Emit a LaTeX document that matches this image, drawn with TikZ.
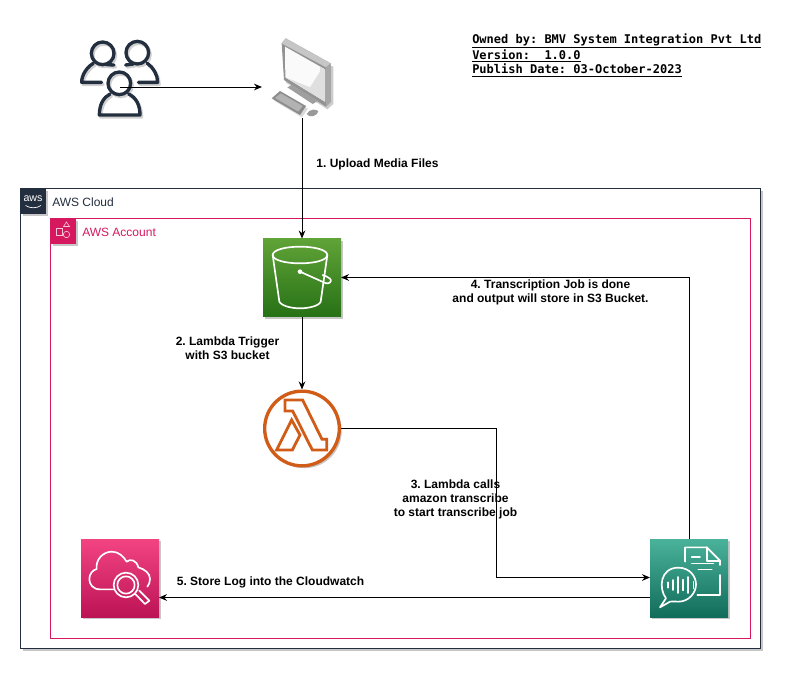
\documentclass[tikz,border=0pt]{standalone}
\usepackage{fontspec}
\setmainfont{Liberation Sans}
\setmonofont{DejaVu Sans Mono}
\frenchspacing
\usetikzlibrary{shadows}
\usetikzlibrary{arrows.meta}
\definecolor{awsdark}{HTML}{232F3E}
\definecolor{awspink}{HTML}{D6185F}
\definecolor{lambdaorange}{HTML}{D05C17}
\definecolor{s3top}{HTML}{60A337}
\definecolor{s3bottom}{HTML}{277116}
\definecolor{watchtop}{HTML}{F34482}
\definecolor{watchbottom}{HTML}{BC1356}
\definecolor{transtop}{HTML}{4AB29A}
\definecolor{transbottom}{HTML}{116D5B}
\tikzset{
    softdrop/.style = {drop shadow={shadow xshift=1.8pt,shadow yshift=-1.8pt,opacity=0.22,fill=black}},
    iconbox/.style = {rectangle, minimum width=58.5pt, minimum height=58.5pt, inner sep=0pt, outer sep=0pt, softdrop},
    groupbox/.style = {rectangle, line width=0.75pt, inner sep=0pt, outer sep=0pt, anchor=north west},
    tagbox/.style = {rectangle, minimum width=18.75pt, minimum height=18.75pt, inner sep=0pt, outer sep=0pt, anchor=north west, softdrop},
    grouplabel/.style = {anchor=west, inner sep=0pt, font=\fontsize{9}{11}\selectfont},
    steplabel/.style = {align=center, inner sep=0pt, font=\fontsize{9}{10.5}\selectfont\bfseries},
    edgen/.style = {-{Stealth[length=6pt,width=5pt]}, line width=0.75pt, black},
    iconline/.style = {white, line width=1.25pt, line join=round, line cap=round},
    personline/.style = {awsdark, line width=2.5pt, line join=round, line cap=round},
    personshade/.style = {black!18, line width=2.5pt, line join=round, line cap=round},
}
\newcommand{\drawpeople}[1]{%
\draw[#1] (128,100) circle (34);
\draw[#1] (232,98) circle (34);
\draw[#1] (100,130) .. controls (80,142) and (65,165) .. (65,187) -- (125,187);
\draw[#1] (140,134) -- (162,135);
\draw[#1] (197,135) -- (220,132);
\draw[#1] (262,130) .. controls (280,142) and (293,165) .. (293,187) -- (235,187);
\draw[#1] (178,190) circle (34);
\draw[#1] (150,222) .. controls (130,232) and (118,255) .. (118,285) -- (240,285) .. controls (240,255) and (228,232) .. (206,222);
}
\begin{document}
\begin{tikzpicture}[x=0.75pt,y=-0.75pt]
\useasboundingbox (0,0) rectangle (788,675);
% groups
\node[groupbox, draw=awsdark, minimum width=555pt, minimum height=345pt, softdrop, fill=white] at (20.5,188.5) (cloud) {};
\node[groupbox, draw=awspink, minimum width=525pt, minimum height=315pt, fill=white] at (50.5,218.5) (account) {};
\node[tagbox, fill=awsdark] at (20.5,188.5) (cloudtag) {};
\node[tagbox, fill=awspink] at (50.5,218.5) (accounttag) {};
\node[grouplabel, text=awsdark] at (52,202.5) (cloudlabel) {AWS Cloud};
\node[grouplabel, text=awspink] at (82,232.5) (accountlabel) {AWS Account};
\node[inner sep=0pt, text=white, font=\fontsize{8}{8}\selectfont] at (33,198.5) (awslogo) {aws};
\draw[white, line width=0.5pt] (25.5,205.5) .. controls (30,208.5) and (37,208.5) .. (41,205.5);
\draw[white!75!awspink, line width=0.5pt] (56.5,228) rectangle (62.5,235);
\draw[white!75!awspink, line width=0.5pt] (63.5,226.5) -- (66.5,222) -- (69.5,226.5) -- cycle;
\draw[white!75!awspink, line width=0.5pt] (66.5,234.5) circle (3.2);
% icon boxes
\node[minimum width=58.5pt, minimum height=58.5pt, inner sep=0pt] at (120,78) (users) {};
\node[minimum width=58.5pt, minimum height=58.5pt, inner sep=0pt] at (302,78) (pc) {};
\node[iconbox, top color=s3top, bottom color=s3bottom] at (302,277.5) (s3) {};
\node[circle, draw=lambdaorange, line width=2.5pt, fill=white, minimum size=56pt, inner sep=0pt, softdrop] at (302,428.5) (lambda) {};
\node[iconbox, top color=watchtop, bottom color=watchbottom] at (120,578) (watch) {};
\node[iconbox, top color=transtop, bottom color=transbottom] at (689,578) (transcribe) {};
% users
\begin{scope}[shift={(61.5,22)},scale=1/3]
\drawpeople{personshade}
\end{scope}
\begin{scope}[shift={(60,20)},scale=1/3]
\drawpeople{personline}
\end{scope}
% pc
\begin{scope}[shift={(270,30)},scale=1/3]
\fill[black!20] (40,50) -- (190,110) -- (190,222) -- (172,238) -- (48,158) -- cycle;
\fill[black!15] (12,212) -- (35,190) -- (114,236) -- (96,262) -- cycle;
\fill[gray!85] (35,40) -- (47,25) -- (182,100) -- (183,215) -- (168,230) -- (42,150) -- cycle;
\fill[gray!45] (35,40) -- (47,25) -- (182,100) -- (168,112) -- cycle;
\fill[gray!70] (168,112) -- (182,100) -- (183,215) -- (168,230) -- cycle;
\fill[white!96!gray] (45,50) -- (165,118) -- (165,215) -- (46,142) -- cycle;
\fill[gray!25] (150,110) -- (165,118) -- (165,215) -- (46,142) -- (120,172) -- (150,125) -- cycle;
\fill[gray!75] (52,172) -- (65,165) -- (145,212) -- (128,222) -- cycle;
\fill[gray!90] (5,205) -- (30,183) -- (108,228) -- (90,255) -- cycle;
\fill[gray!60] (15,204) -- (32,190) -- (98,228) -- (85,245) -- cycle;
\fill[gray!80] (110,252) .. controls (118,236) and (140,236) .. (145,244) .. controls (142,258) and (118,266) .. (110,252) -- cycle;
\end{scope}
% s3
\begin{scope}[shift={(250,230)},scale=1/3]
\draw[iconline] (150,50) .. controls (105,50) and (68,60) .. (68,75) .. controls (68,90) and (105,100) .. (150,100) .. controls (195,100) and (232,90) .. (232,75) .. controls (232,60) and (195,50) .. (150,50) -- cycle;
\draw[iconline] (68,75) -- (88,215) .. controls (95,228) and (125,235) .. (150,235) .. controls (175,235) and (207,228) .. (212,215) -- (232,75);
\draw[iconline] (150,125) -- (228,160) .. controls (240,162) and (247,152) .. (240,146) .. controls (234,140) and (225,138) .. (218,135);
\fill[white] (150,125) circle (7);
\end{scope}
% lambda
\begin{scope}[shift={(250,230)},scale=1/3]
\draw[lambdaorange, line width=2.1pt, line join=miter] (105,510) -- (158,510) -- (216,628) -- (230,628) -- (230,660) -- (187,660) -- (128,543) -- (105,543) -- cycle;
\draw[lambdaorange, line width=2.1pt, line join=miter] (125,570) -- (150,615) -- (127,660) -- (80,660) -- cycle;
\end{scope}
% cloudwatch
\begin{scope}[shift={(70,530)},scale=1/3]
\draw[iconline] (130,178) -- (90,178) .. controls (68,178) and (58,162) .. (58,147) .. controls (58,132) and (68,120) .. (80,117) .. controls (76,88) and (100,65) .. (125,65) .. controls (145,65) and (160,78) .. (170,95) .. controls (180,85) and (200,90) .. (205,112) .. controls (225,118) and (240,130) .. (240,147) .. controls (240,155) and (237,165) .. (232,170);
\draw[iconline] (168,165) circle (37);
\draw[iconline] (168,165) circle (26);
\draw[iconline] (196,192) -- (225,222) -- (238,212) -- (208,182);
\end{scope}
% transcribe
\begin{scope}[shift={(640,530)},scale=1/3]
\draw[iconline] (135,95) -- (135,52) -- (200,52) -- (240,92) -- (240,105);
\draw[iconline] (200,52) -- (200,92) -- (240,92);
\draw[iconline] (155,80) -- (180,80);
\draw[iconline] (155,100) -- (220,100);
\draw[iconline] (175,118) -- (215,118);
\draw[iconline] (240,135) -- (240,195) -- (172,195);
\draw[iconline] (60,232) -- (78,205) .. controls (55,175) and (60,113) .. (115,113) .. controls (150,113) and (168,140) .. (168,163) .. controls (168,190) and (145,215) .. (115,215) .. controls (105,215) and (96,213) .. (90,215) -- cycle;
\foreach \barx/\barh in {83/8,98/15,113/24,128/16,143/24,160/10}
  \draw[iconline] (\barx,165-\barh) -- (\barx,165+\barh);
\end{scope}
% connectors
\coordinate (usersout) at (120,87);
\coordinate (pcin) at (262,87);
\coordinate (pcout) at (302,118);
\draw[edgen] (usersout) -- (pcin);
\draw[edgen] (pcout) -- (s3.north);
\draw[edgen] (s3.south) -- (lambda.north);
\draw[edgen] (lambda.east) -- (496,428.5) -- (496,577.5) -- (transcribe.west |- 0,577.5);
\draw[edgen] (transcribe.north) -- (689,277.5) -- (s3.east);
\draw[edgen] (transcribe.west |- 0,597.5) -- (watch.east |- 0,597.5);
% labels
\node[steplabel] at (377.5,164) (upload) {1. Upload Media Files};
\node[steplabel] at (227.5,348.5) (trigger) {2. Lambda Trigger\\with S3 bucket};
\node[steplabel] at (455.5,499) (calls) {3. Lambda calls\\amazon transcribe\\to start transcribe job};
\node[steplabel] at (550.5,292) (done) {4. Transcription Job is done\\and output will store in S3 Bucket.};
\node[steplabel] at (270.5,582) (logs) {5. Store Log into the Cloudwatch};
\node[align=left, anchor=north west, inner sep=0pt, font=\fontsize{9}{10.9}\ttfamily\bfseries] at (472,33) (owner) {\underline{Owned by: BMV System Integration Pvt Ltd}\\\underline{Version:\ \ 1.0.0}\\\underline{Publish Date: 03-October-2023}};
\end{tikzpicture}
\end{document}
